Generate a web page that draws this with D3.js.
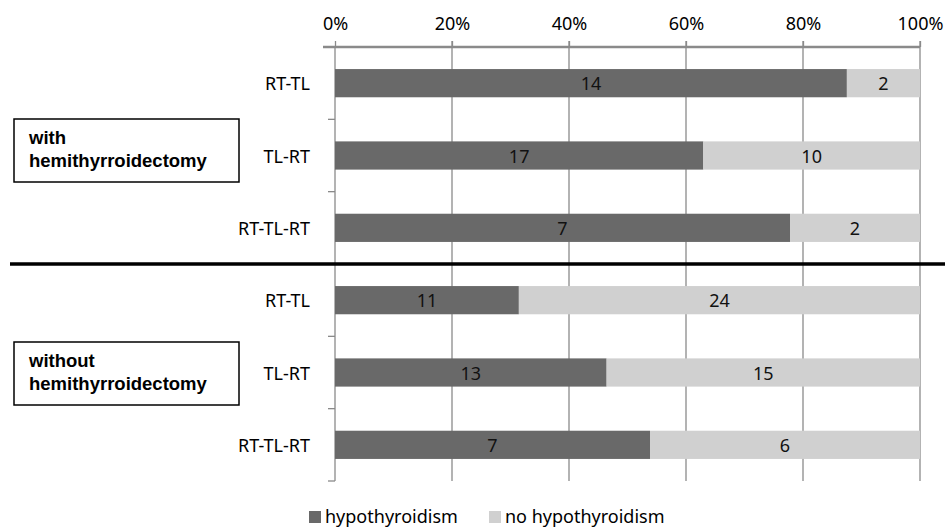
<!DOCTYPE html>
<html>
<head>
<meta charset="utf-8">
<script src="https://cdn.jsdelivr.net/npm/d3@7"></script>
<style>
  body { margin: 0; background: #fff; }
  svg { display: block; }
</style>
</head>
<body>
<svg id="chart"></svg>
<script>
const groups = ["with\nhemithyrroidectomy", "without\nhemithyrroidectomy"];
const categories = ["RT-TL", "TL-RT", "RT-TL-RT", "RT-TL ", "TL-RT ", "RT-TL-RT "];
const hypo = [14, 17, 7, 11, 13, 7];
const noHypo = [2, 10, 2, 24, 15, 6];
const seriesNames = ["hypothyroidism", "no hypothyroidism"];
const seriesColors = ["#696969", "#d0d0d0"];
const tickValues = [0, 0.2, 0.4, 0.6, 0.8, 1];

const width = 945, height = 530;
const margin = { top: 47, right: 25, bottom: 49, left: 335 };
const labelFont = "'Noto Sans', sans-serif";

const svg = d3.select("#chart").attr("width", width).attr("height", height);

const x = d3.scaleLinear().domain([0, 1]).range([margin.left, width - margin.right]);
const y = d3.scaleBand().domain(categories).range([margin.top, height - margin.bottom]).paddingInner(0.61).paddingOuter(0.305);
const yStep = y.step();

// vertical grid
svg.append("g").selectAll("line").data(tickValues.slice(1)).join("line")
  .attr("x1", d => x(d)).attr("x2", d => x(d))
  .attr("y1", margin.top - 6).attr("y2", height - margin.bottom)
  .attr("stroke", "#8a8a8a").attr("stroke-width", 1.3);

// top axis
const xAxis = svg.append("g").attr("transform", `translate(0,${margin.top})`)
  .call(d3.axisTop(x).tickValues(tickValues).tickFormat(d3.format(".0%")).tickSize(6).tickSizeOuter(0));
xAxis.select(".domain").attr("stroke", "#8a8a8a").attr("stroke-width", 2.5).attr("d", `M${margin.left - 12},0H${x(1)}`);
xAxis.selectAll(".tick line").attr("stroke", "#8a8a8a").attr("stroke-width", 1.3);
xAxis.selectAll("text").attr("font-family", labelFont).attr("font-size", 18).attr("fill", "#000").attr("dy", "-0.45em");

// left axis line with ticks between categories
const left = svg.append("g");
left.append("line").attr("x1", margin.left).attr("x2", margin.left)
  .attr("y1", margin.top).attr("y2", height - margin.bottom)
  .attr("stroke", "#8a8a8a").attr("stroke-width", 1.3);
left.selectAll("line.t").data(d3.range(categories.length + 1)).join("line").attr("class", "t")
  .attr("x1", margin.left - 7).attr("x2", margin.left)
  .attr("y1", i => margin.top + i * yStep).attr("y2", i => margin.top + i * yStep)
  .attr("stroke", "#8a8a8a").attr("stroke-width", 1.3);

// category labels
svg.append("g").selectAll("text").data(categories).join("text")
  .attr("x", 310).attr("y", d => y(d) + y.bandwidth() / 2)
  .attr("text-anchor", "end").attr("dominant-baseline", "central")
  .attr("font-family", labelFont).attr("font-size", 18).text(d => d.trim());

// stacked bars
const rows = categories.map((c, i) => {
  const total = hypo[i] + noHypo[i];
  return [
    { cat: c, s: 0, v: hypo[i], x0: 0, x1: hypo[i] / total },
    { cat: c, s: 1, v: noHypo[i], x0: hypo[i] / total, x1: 1 }
  ];
}).flat();

svg.append("g").selectAll("rect").data(rows).join("rect")
  .attr("x", d => x(d.x0)).attr("width", d => x(d.x1) - x(d.x0))
  .attr("y", d => y(d.cat)).attr("height", y.bandwidth())
  .attr("fill", d => seriesColors[d.s]);

svg.append("g").selectAll("text").data(rows).join("text")
  .attr("x", d => (x(d.x0) + x(d.x1)) / 2).attr("y", d => y(d.cat) + y.bandwidth() / 2)
  .attr("text-anchor", "middle").attr("dominant-baseline", "central")
  .attr("font-family", labelFont).attr("font-size", 18).attr("fill", "#111").text(d => d.v);

// divider line between groups
svg.append("line").attr("x1", 10).attr("x2", width).attr("y1", margin.top + 3 * yStep).attr("y2", margin.top + 3 * yStep)
  .attr("stroke", "#000").attr("stroke-width", 3.5);

// group boxes
const boxTop = [119, 342];
groups.forEach((g, gi) => {
  const box = svg.append("g").attr("transform", `translate(14,${boxTop[gi]})`);
  box.append("rect").attr("width", 225).attr("height", 63).attr("fill", "#fff").attr("stroke", "#000").attr("stroke-width", 1.5);
  g.split("\n").forEach((line, li) => {
    box.append("text").attr("x", 15).attr("y", 25 + li * 23)
      .attr("font-family", "'Liberation Sans', Arial, sans-serif").attr("font-weight", "bold")
      .attr("font-size", 18.5).text(line);
  });
});

// legend
const legend = svg.append("g").attr("transform", `translate(309,516)`);
const lx = [0, 180];
seriesNames.forEach((n, i) => {
  const item = legend.append("g").attr("transform", `translate(${lx[i]},0)`);
  item.append("rect").attr("x", 0).attr("y", -5).attr("width", 12).attr("height", 12).attr("fill", seriesColors[i]);
  item.append("text").attr("x", 16).attr("y", 0).attr("dominant-baseline", "central")
    .attr("font-family", labelFont).attr("font-size", 18).text(n);
});
</script>
</body>
</html>
